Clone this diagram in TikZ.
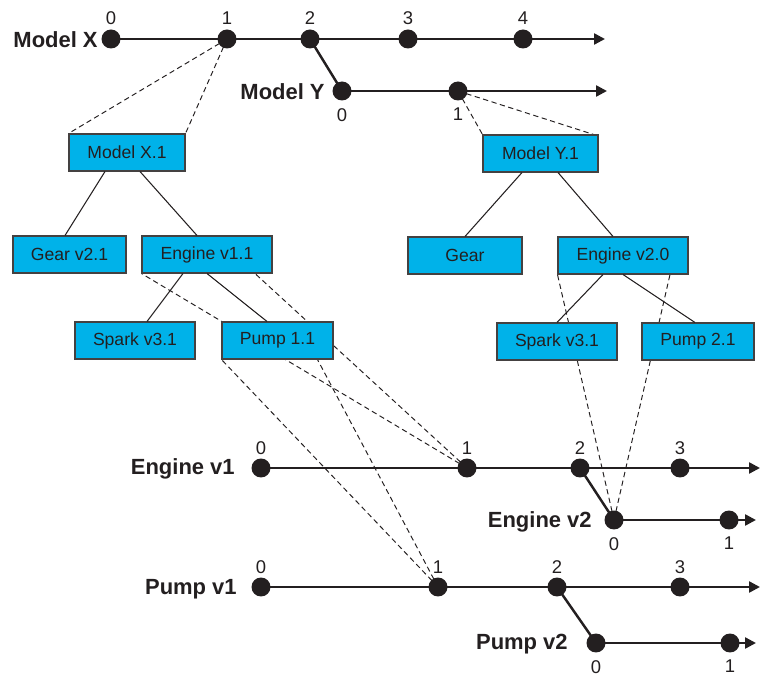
\documentclass[tikz,border=0pt]{standalone}
\usepackage{fontspec}
\setmainfont{Liberation Sans}
\usetikzlibrary{positioning, arrows.meta, backgrounds}

\definecolor{boxblue}{RGB}{0,178,233}
\definecolor{ink}{RGB}{35,31,32}

\tikzset{
  dot/.style={circle, fill=ink, inner sep=0pt, minimum size=0.38cm},
  part/.style={draw=ink!85, line width=0.6pt, fill=boxblue, minimum height=0.74cm,
    inner sep=0pt, text=ink, font=\fontsize{10}{12}\selectfont},
  num/.style={inner sep=0pt, text=ink, font=\fontsize{10.5}{12}\selectfont},
  lab/.style={inner sep=0pt, anchor=east, text=ink, font=\fontsize{12.5}{14}\selectfont\bfseries},
  track/.style={line width=1.4pt, draw=ink},
  head/.style={-{Triangle[length=0.22cm, width=0.22cm]}},
  tree/.style={line width=0.6pt, draw=ink},
  link/.style={line width=0.55pt, draw=ink, dash pattern=on 3pt off 2pt},
}

\begin{document}
\begin{tikzpicture}[x=0.02cm, y=-0.02cm]
    \useasboundingbox (0,0) rectangle (761,675);

    % version dots
    \foreach \i/\x in {0/111, 1/227, 2/310, 3/408, 4/523} {
        \node[dot] (mx\i) at (\x,39) {};
        \node[num, above=0.09cm of mx\i] (nmx\i) {\i};
    }
    \foreach \i/\x in {0/342, 1/458} {
        \node[dot] (my\i) at (\x,91) {};
        \node[num, below=0.14cm of my\i] (nmy\i) {\i};
    }
    \foreach \i/\x in {0/261, 1/467, 2/580, 3/680} {
        \node[dot] (ea\i) at (\x,468) {};
        \node[num, above=0.07cm of ea\i] (nea\i) {\i};
    }
    \foreach \i/\x in {0/614, 1/729} {
        \node[dot] (eb\i) at (\x,520) {};
        \node[num, below=0.14cm of eb\i] (neb\i) {\i};
    }
    \foreach \i/\x in {0/261, 1/438, 2/557, 3/680} {
        \node[dot] (pa\i) at (\x,587) {};
        \node[num, above=0.07cm of pa\i] (npa\i) {\i};
    }
    \foreach \i/\x in {0/596, 1/730} {
        \node[dot] (pb\i) at (\x,643) {};
        \node[num, below=0.14cm of pb\i] (npb\i) {\i};
    }

    \node[lab] (lmx) at (98,40) {Model X};
    \node[lab] (lmy) at (325,92) {Model Y};
    \node[lab] (lea) at (235,469) {Engine v1};
    \node[lab] (leb) at (592,522) {Engine v2};
    \node[lab] (lpa) at (237,589) {Pump v1};
    \node[lab] (lpb) at (568,644) {Pump v2};

    \coordinate (mxend) at (605,39);
    \coordinate (myend) at (607,91);
    \coordinate (eaend) at (760,468);
    \coordinate (ebend) at (756,520);
    \coordinate (paend) at (760,587);
    \coordinate (pbend) at (756,643);

    \draw[track, head] (mx0.center) -- (mxend);
    \draw[track, head] (my0.center) -- (myend);
    \draw[track, head] (ea0.center) -- (eaend);
    \draw[track, head] (eb0.center) -- (ebend);
    \draw[track, head] (pa0.center) -- (paend);
    \draw[track, head] (pb0.center) -- (pbend);
    \draw[track] (mx2.center) -- (my0.center);
    \draw[track] (ea2.center) -- (eb0.center);
    \draw[track] (pa2.center) -- (pb0.center);

    % part trees
    \node[part, minimum width=2.32cm] (modx) at (127,152.5) {Model X.1};
    \node[part, minimum width=2.26cm] (gearx) at (69.5,254.5) {Gear v2.1};
    \node[part, minimum width=2.6cm] (engx) at (207,254.5) {Engine v1.1};
    \node[part, minimum width=2.4cm] (sparkx) at (135,340.5) {Spark v3.1};
    \node[part, minimum width=2.22cm] (pumpx) at (277.5,340.5) {Pump 1.1};

    \node[part, minimum width=2.3cm] (mody) at (540.5,153.5) {Model Y.1};
    \node[part, minimum width=2.28cm] (geary) at (465,255.5) {Gear};
    \node[part, minimum width=2.6cm] (engy) at (623,255.5) {Engine v2.0};
    \node[part, minimum width=2.4cm] (sparky) at (557,341.5) {Spark v3.1};
    \node[part, minimum width=2.24cm] (pumpy) at (698,341.5) {Pump 2.1};

    \draw[tree] ([xshift=-0.44cm]modx.south) -- ([xshift=-0.09cm]gearx.north);
    \draw[tree] ([xshift=0.26cm]modx.south) -- ([xshift=-0.2cm]engx.north);
    \draw[tree] ([xshift=-0.48cm]engx.south) -- ([xshift=0.24cm]sparkx.north);
    \draw[tree] (engx.south) -- ([xshift=-0.21cm]pumpx.north);
    \draw[tree] ([xshift=-0.37cm]mody.south) -- (geary.north);
    \draw[tree] ([xshift=0.35cm]mody.south) -- ([xshift=-0.2cm]engy.north);
    \draw[tree] ([xshift=-0.4cm]engy.south) -- (sparky.north);
    \draw[tree] (engy.south) -- ([xshift=-0.06cm]pumpy.north);

    % version links
    \begin{pgfonlayer}{background}
    \draw[link] (mx1.center) -- (modx.north west);
    \draw[link] (mx1.center) -- (modx.north east);
    \draw[link] (my1.center) -- (mody.north west);
    \draw[link] (my1.center) -- ([xshift=-0.1cm]mody.north east);
    \draw[link] (ea1.center) -- (engx.south west);
    \draw[link] (ea1.center) -- ([xshift=0.96cm]engx.south);
    \draw[link] (pa1.center) -- (pumpx.south west);
    \draw[link] (pa1.center) -- ([xshift=0.8cm]pumpx.south);
    \draw[link] (eb0.center) -- (engy.south west);
    \draw[link] (eb0.center) -- ([xshift=0.94cm]engy.south);
    \end{pgfonlayer}
\end{tikzpicture}
\end{document}
